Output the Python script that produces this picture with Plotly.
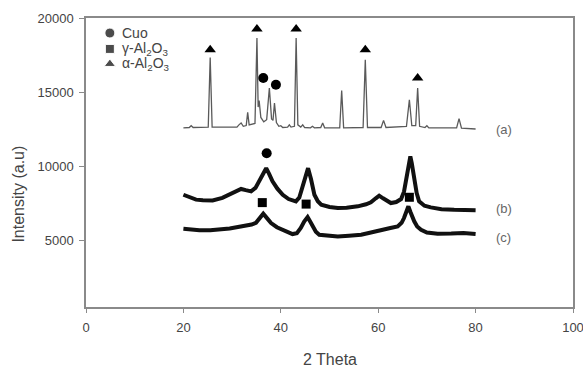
import plotly.graph_objects as go

# ---- data ----
a_theta = [20.0, 21.2, 21.6, 22.0, 25.1, 25.5, 25.9, 31.0, 31.4, 31.85, 32.3, 32.9, 33.2, 33.5,
           34.7, 35.1, 35.35, 35.55, 35.9, 36.5, 37.1, 37.65, 38.1, 38.4, 38.7, 39.1, 39.6, 40.0,
           40.4, 41.4, 41.75, 42.1, 42.8, 43.15, 43.5, 44.1, 44.5, 44.9, 46.1, 46.5, 46.9, 48.2,
           48.6, 49.0, 52.1, 52.5, 52.9, 56.9, 57.35, 57.8, 60.6, 61.1, 61.6, 65.8, 66.4, 66.9,
           67.7, 68.1, 68.5, 69.6, 70.0, 70.4, 76.1, 76.6, 77.1, 80.0]
a_int = [12600, 12620, 12740, 12620, 12640, 17345, 12640, 12650, 12800, 12925, 12700, 12750, 13640, 12800,
         12900, 18650, 14000, 14430, 13300, 13000, 13150, 15280, 13200, 13100, 14270, 12950, 12700, 12740,
         12620, 12650, 12800, 12650, 12700, 18650, 12800, 12650, 12800, 12620, 12600, 12700, 12600, 12620,
         12925, 12600, 12600, 15110, 12600, 12620, 17190, 12620, 12620, 13100, 12620, 12700, 14495, 12750,
         12750, 15280, 12700, 12620, 12740, 12600, 12600, 13220, 12580, 12520]

b_theta = [20.0, 21.0, 22.6, 24.0, 26.0, 28.0, 29.5, 30.8, 31.85, 32.8, 33.9, 34.8, 35.6, 36.4, 37.0,
           37.6, 38.3, 39.3, 40.4, 41.6, 43.1, 43.8, 44.5, 45.0, 45.6, 46.2, 46.9, 47.6, 48.3, 50.0,
           51.7, 53.5, 55.8, 57.5, 58.5, 59.5, 60.2, 61.0, 62.6, 63.7, 64.7, 65.3, 65.8, 66.3, 66.6,
           66.9, 67.4, 67.9, 68.4, 69.5, 70.8, 73.0, 75.6, 78.0, 80.0]
b_int = [8090, 7950, 7760, 7720, 7710, 7880, 8090, 8320, 8480, 8400, 8320, 8550, 9000, 9550, 9880,
         9500, 8990, 8500, 8090, 7800, 7640, 7900, 8700, 9400, 9880, 9150, 8090, 7650, 7420, 7270,
         7200, 7220, 7310, 7450, 7580, 7850, 8030, 7850, 7530, 7600, 7800, 8300, 9100, 10200, 10680,
         10200, 9100, 8200, 7640, 7350, 7240, 7120, 7080, 7080, 7050]

c_theta = [20.0, 21.5, 23.3, 25.5, 27.4, 29.5, 31.2, 32.9, 34.0, 34.9, 35.7, 36.4, 37.2, 38.0, 39.2,
           40.4, 41.4, 42.4, 43.3, 44.1, 44.8, 45.5, 46.0, 46.5, 47.2, 47.9, 49.5, 51.7, 54.0, 56.5,
           58.5, 60.6, 62.5, 64.0, 64.8, 65.3, 65.8, 66.2, 66.6, 67.0, 67.4, 68.0, 68.8, 70.0, 72.2,
           75.0, 77.5, 80.0]
c_int = [5800, 5740, 5690, 5700, 5735, 5820, 5920, 6000, 6080, 6200, 6500, 6810, 6500, 6180, 5900,
         5735, 5560, 5440, 5500, 5850, 6290, 6590, 6300, 5955, 5600, 5395, 5320, 5280, 5330, 5395,
         5550, 5735, 5850, 5955, 6200, 6520, 6950, 7310, 6950, 6600, 6300, 5950, 5735, 5550, 5465,
         5480, 5520, 5450]

cuo_theta = [36.4, 39.0, 37.1]
cuo_int = [15960, 15500, 10890]
gamma_theta = [36.2, 45.2, 66.4]
gamma_int = [7560, 7460, 7920]
alpha_theta = [25.5, 35.1, 43.15, 57.35, 68.1]
alpha_int = [17860, 19260, 19260, 17860, 15960]

curve_labels = ["(a)", "(b)", "(c)"]
label_theta = [85.8, 85.8, 85.8]
label_int = [12470, 7180, 5180]

legend_labels = ["Cuo", "γ-Al<sub>2</sub>O<sub>3</sub>", "α-Al<sub>2</sub>O<sub>3</sub>"]
legend_symbols = ["circle", "square", "triangle-up"]
legend_sizes = [10, 9, 10]

x_ticks = [0, 20, 40, 60, 80, 100]
y_ticks = [5000, 10000, 15000, 20000]
x_title = "2 Theta"
y_title = "Intensity (a.u)"

# ---- layout constants (paper fractions) ----
LEG_MARK_X = 0.049
LEG_TEXT_X = 0.070
LEG_ROWS_Y = [0.948, 0.893, 0.841]
XTITLE_POS = (0.50, -0.182)
YTITLE_POS = (-0.139, 0.39)

FONT = "Liberation Sans, Arial, sans-serif"
AXC = "#8a8a8a"
TXT = "#444444"

fig = go.Figure()
fig.add_trace(go.Scatter(x=a_theta, y=a_int, mode="lines", line=dict(color="#5a5a5a", width=1.3),
                         showlegend=False, hoverinfo="skip"))
fig.add_trace(go.Scatter(x=b_theta, y=b_int, mode="lines", line=dict(color="#111111", width=4),
                         showlegend=False, hoverinfo="skip"))
fig.add_trace(go.Scatter(x=c_theta, y=c_int, mode="lines", line=dict(color="#111111", width=4),
                         showlegend=False, hoverinfo="skip"))
fig.add_trace(go.Scatter(x=cuo_theta, y=cuo_int, mode="markers", name="Cuo", showlegend=False,
                         marker=dict(symbol="circle", size=10, color="black")))
fig.add_trace(go.Scatter(x=gamma_theta, y=gamma_int, mode="markers", name="γ-Al2O3", showlegend=False,
                         marker=dict(symbol="square", size=9, color="black")))
fig.add_trace(go.Scatter(x=alpha_theta, y=alpha_int, mode="markers", name="α-Al2O3", showlegend=False,
                         marker=dict(symbol="triangle-up", size=10, color="black")))

# legend key (drawn on an overlay axis spanning the plot area)
fig.add_trace(go.Scatter(x=[LEG_MARK_X] * 3, y=LEG_ROWS_Y, mode="markers", xaxis="x2", yaxis="y2",
                         showlegend=False, hoverinfo="skip",
                         marker=dict(symbol=legend_symbols, size=legend_sizes, color="black")))
for t, yv in zip(legend_labels, LEG_ROWS_Y):
    fig.add_annotation(x=LEG_TEXT_X, y=yv, xref="paper", yref="paper", text=t, showarrow=False,
                       xanchor="left", yanchor="middle", font=dict(family=FONT, size=14, color=TXT))

for t, xv, yv in zip(curve_labels, label_theta, label_int):
    fig.add_annotation(x=xv, y=yv, text=t, showarrow=False, xanchor="center", yanchor="middle",
                       font=dict(family=FONT, size=13, color="#666666"))

# axis titles
fig.add_annotation(x=XTITLE_POS[0], y=XTITLE_POS[1], xref="paper", yref="paper", text=x_title,
                   showarrow=False, xanchor="center", yanchor="middle",
                   font=dict(family=FONT, size=16, color=TXT))
fig.add_annotation(x=YTITLE_POS[0], y=YTITLE_POS[1], xref="paper", yref="paper", text=y_title,
                   showarrow=False, xanchor="center", yanchor="middle", textangle=-90,
                   font=dict(family=FONT, size=16, color=TXT))

fig.update_layout(
    width=583, height=380,
    margin=dict(l=86, r=10, t=18, b=73),
    paper_bgcolor="white", plot_bgcolor="white",
    font=dict(family=FONT, size=13, color=TXT),
    showlegend=False,
    xaxis=dict(range=[0, 100], tickvals=x_ticks, ticktext=[str(v) for v in x_ticks],
               ticks="outside", ticklen=4, tickcolor=AXC, tickwidth=1.3, automargin=False,
               showline=True, linecolor=AXC, linewidth=1.5, mirror=True, showgrid=False,
               zeroline=False, tickfont=dict(size=13, color=TXT), ticklabelstandoff=4,
               ticklabeloverflow="allow"),
    yaxis=dict(range=[526, 20000], tickvals=y_ticks, ticktext=[str(v) for v in y_ticks],
               ticks="outside", ticklen=5, tickcolor=AXC, tickwidth=1.3, automargin=False,
               showline=True, linecolor=AXC, linewidth=1.5, mirror=True, showgrid=False,
               zeroline=False, tickfont=dict(size=13, color=TXT), ticklabelstandoff=3,
               ticklabeloverflow="allow"),
    xaxis2=dict(overlaying="x", range=[0, 1], visible=False, fixedrange=True),
    yaxis2=dict(overlaying="y", range=[0, 1], visible=False, fixedrange=True),
)

fig.write_html("out.html")
